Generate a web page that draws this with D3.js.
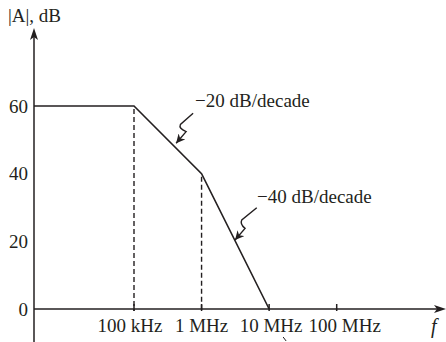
<!DOCTYPE html>
<html><head><meta charset="utf-8">
<script src="https://cdn.jsdelivr.net/npm/d3@7"></script>
<style>
html,body{margin:0;padding:0;background:#fff;}
svg{display:block;}
text{font-family:"Liberation Serif","Times New Roman",serif;fill:#231f20;}
</style></head>
<body>
<svg id="c" width="446" height="342"></svg>
<script>
// ---- data ----
const freqs = [3.31e3, 1e5, 1e6, 1e7];          // Hz, corner points of the asymptote
const gainDb = [60, 60, 40, 0];                   // dB
const xTickFreqs = [1e5, 1e6, 1e7, 1e8];
const xTickLabels = ["100 kHz", "1 MHz", "10 MHz", "100 MHz"];
const yTickValues = [0, 20, 40, 60];
const dashedFreqs = [1e5, 1e6];
const dashedGain = [60, 40];
const annotations = ["\u221220 dB/decade", "\u221240 dB/decade"];
const annoTipFreq = [4.2e5, 3.13e6];
const annoTipGain = [49, 20.4];

const svg = d3.select("#c");
const ink = "#231f20";
const x = d3.scaleLog().domain([1e5, 1e8]).range([134, 336.7]);
const y = d3.scaleLinear().domain([0, 60]).range([309, 106]);
const x0 = 34, xEnd = 446, yTop = 28, yBottom = 342;
const labelNudge = [-4, 0, 2, 8];

// defs
const defs = svg.append("defs");
defs.append("marker").attr("id","ah").attr("viewBox","0 0 10 10").attr("refX",10).attr("refY",5)
  .attr("markerWidth",9).attr("markerHeight",9).attr("markerUnits","userSpaceOnUse").attr("orient","auto")
  .append("path").attr("d","M0,0 L10,5 L0,10 L3,5 Z").attr("fill",ink);

// axes lines
svg.append("line").attr("x1",x0).attr("x2",x0).attr("y1",yBottom).attr("y2",yTop+4)
  .attr("stroke",ink).attr("stroke-width",1.5);
svg.append("path").attr("d",`M${x0},${yTop} L${x0-4},${yTop+12} L${x0},${yTop+9} L${x0+4},${yTop+12} Z`).attr("fill",ink);
svg.append("line").attr("x1",x0).attr("x2",xEnd-4).attr("y1",y(0)).attr("y2",y(0))
  .attr("stroke",ink).attr("stroke-width",1.5);
svg.append("path").attr("d",`M${xEnd},${y(0)} L${xEnd-12},${y(0)-4} L${xEnd-9},${y(0)} L${xEnd-12},${y(0)+4} Z`).attr("fill",ink);

// x ticks & labels
xTickFreqs.forEach((f,i)=>{
  svg.append("line").attr("x1",x(f)).attr("x2",x(f)).attr("y1",y(0)-5).attr("y2",y(0)+2)
    .attr("stroke",ink).attr("stroke-width",1.5);
  svg.append("text").attr("x",x(f)+labelNudge[i]).attr("y",y(0)+23).attr("text-anchor","middle")
    .attr("font-size",19).text(xTickLabels[i]);
});
// y tick labels
yTickValues.forEach(v=>{
  svg.append("text").attr("x",28).attr("y",y(v)+6.5).attr("text-anchor","end")
    .attr("font-size",19).text(v);
});
// axis titles
svg.append("text").attr("x",8).attr("y",22).attr("font-size",19).text("|A|, dB");
svg.append("text").attr("x",431).attr("y",333).attr("font-size",20).attr("font-style","italic").text("f");

// dashed verticals
dashedFreqs.forEach((f,i)=>{
  svg.append("line").attr("x1",x(f)).attr("x2",x(f)).attr("y1",y(dashedGain[i])+3).attr("y2",y(0)+2)
    .attr("stroke",ink).attr("stroke-width",1.4).attr("stroke-dasharray","5,3");
});

// asymptote line
const line = d3.line().x((d,i)=>x(freqs[i])).y((d,i)=>y(gainDb[i]));
svg.append("path").datum(gainDb).attr("d",line).attr("fill","none")
  .attr("stroke",ink).attr("stroke-width",1.6).attr("stroke-linejoin","miter");

// annotations with squiggle arrows
const sq = [
  {tx:17, ty:-30, dx: [[-12.7,11.3]], label:[19,-36]},
  {tx:21.7, ty:-32.3, dx: [[-15,12.3]], label:[22,-37]}
];
annotations.forEach((t,i)=>{
  const tipX = x(annoTipFreq[i]), tipY = y(annoTipGain[i]);
  const s = sq[i];
  const sx = tipX + s.tx, sy = tipY + s.ty;
  const p1x = sx + s.dx[0][0], p1y = sy + s.dx[0][1];
  const p2x = tipX + 10, p2y = tipY - 11.6;
  const p = `M${sx},${sy} L${p1x},${p1y} Q${p1x-2},${p1y+4} ${p2x},${p2y} L${tipX},${tipY}`;
  svg.append("path").attr("d",p).attr("fill","none").attr("stroke",ink).attr("stroke-width",1.4)
    .attr("marker-end","url(#ah)");
  svg.append("text").attr("x",tipX + s.label[0]).attr("y",tipY + s.label[1]).attr("font-size",19).text(t);
});

// stray mark under 10 MHz label
svg.append("line").attr("x1",x(1e7)+14).attr("y1",337).attr("x2",x(1e7)+17).attr("y2",341)
  .attr("stroke",ink).attr("stroke-width",1);
</script>
</body></html>
